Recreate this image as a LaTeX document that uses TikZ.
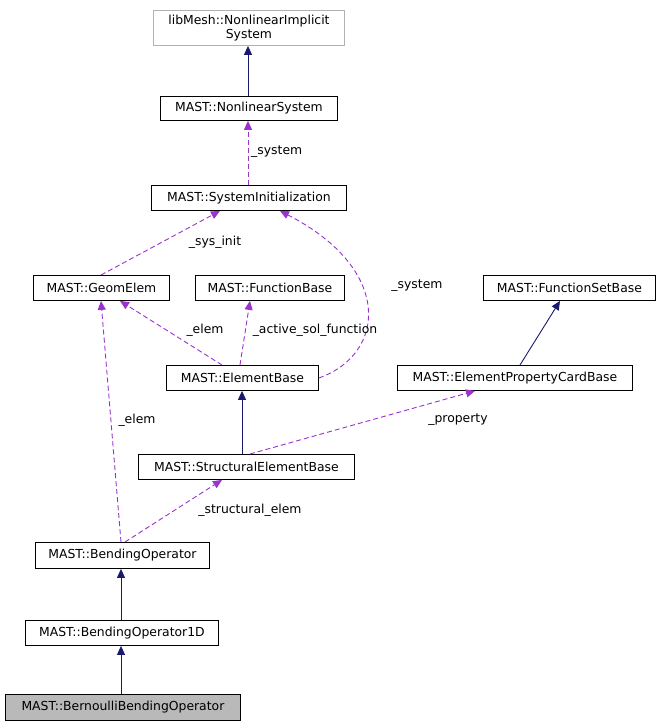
\documentclass[tikz,border=0pt]{standalone}
\usepackage{fontspec}
\setmainfont{DejaVu Sans}
\usetikzlibrary{arrows.meta}
\definecolor{navy}{HTML}{191970}
\definecolor{purp}{HTML}{9A32CD}
\begin{document}
\begin{tikzpicture}[x=1pt,y=-1pt,font=\fontsize{12.4}{14}\selectfont,
  box/.style={draw=black,line width=0.9pt,inner sep=0pt,anchor=north west},
  inh/.style={draw=navy,line width=0.9pt,-{Triangle[length=9pt,width=8pt,fill=navy]}},
  use/.style={draw=purp,line width=0.9pt,dash pattern=on 5pt off 3pt,-{Triangle[length=9pt,width=8pt,fill=purp]}},
  lab/.style={inner sep=1pt}]
\useasboundingbox (0,0) rectangle (660,727);
\newcommand{\bx}[6]{\node[box,#6,minimum width=#4-#2,minimum height=#5-#3] (#1) at (#2,#3) {};}
\bx{lib}{153}{10}{344}{45}{draw=gray!60}
\node[align=center] at (lib.center) {libMesh::NonlinearImplicit\\System};
\bx{nls}{160}{96}{337}{120}{} \node at (nls.center) {MAST::NonlinearSystem};
\bx{si}{151}{185}{346}{210}{} \node at (si.center) {MAST::SystemInitialization};
\bx{ge}{33}{275}{169}{300}{} \node at (ge.center) {MAST::GeomElem};
\bx{fb}{195}{275}{344}{300}{} \node at (fb.center) {MAST::FunctionBase};
\bx{fsb}{483}{275}{655}{300}{} \node at (fsb.center) {MAST::FunctionSetBase};
\bx{eb}{166}{365}{318}{390}{} \node at (eb.center) {MAST::ElementBase};
\bx{epc}{397}{365}{632}{390}{} \node at (epc.center) {MAST::ElementPropertyCardBase};
\bx{seb}{138}{454}{354}{479}{} \node at (seb.center) {MAST::StructuralElementBase};
\bx{bo}{35}{542}{209}{568}{} \node at (bo.center) {MAST::BendingOperator};
\bx{bo1}{25}{620}{218}{645}{} \node at (bo1.center) {MAST::BendingOperator1D};
\bx{bbo}{5}{694}{240}{720}{fill=gray!55} \node at (bbo.center) {MAST::BernoulliBendingOperator};

\draw[inh] (nls.north -| 248,0) -- (lib.south -| 248,0);
\draw[use] (si.north -| 248,0) -- (nls.south -| 248,0);
\node[lab,anchor=west] at (250,152) {\_system};
\draw[use] (ge.north -| 101,0) -- (si.south -| 220,0);
\node[lab] at (215,242) {\_sys\_init};
\draw[use] (eb.east) .. controls (385,355) and (395,270) .. (si.south -| 280,0);
\node[lab] at (417,286) {\_system};
\draw[use] (eb.north -| 222,0) -- (ge.south -| 120,0);
\node[lab] at (205,330) {\_elem};
\draw[use] (eb.north -| 240,0) -- (fb.south -| 250,0);
\node[lab] at (315,330) {\_active\_sol\_function};
\draw[inh] (epc.north -| 520,0) -- (fsb.south -| 560,0);
\draw[inh] (seb.north -| 242,0) -- (eb.south -| 242,0);
\draw[use] (seb.north -| 250,0) -- (epc.south -| 475,0);
\node[lab] at (458,420) {\_property};
\draw[use] (bo.north -| 121,0) -- (ge.south -| 101,0);
\node[lab] at (137,420) {\_elem};
\draw[use] (bo.north -| 125,0) -- (seb.south -| 222,0);
\node[lab] at (250,510) {\_structural\_elem};
\draw[inh] (bo1.north -| 121,0) -- (bo.south -| 121,0);
\draw[inh] (bbo.north -| 121,0) -- (bo1.south -| 121,0);
\end{tikzpicture}
\end{document}
